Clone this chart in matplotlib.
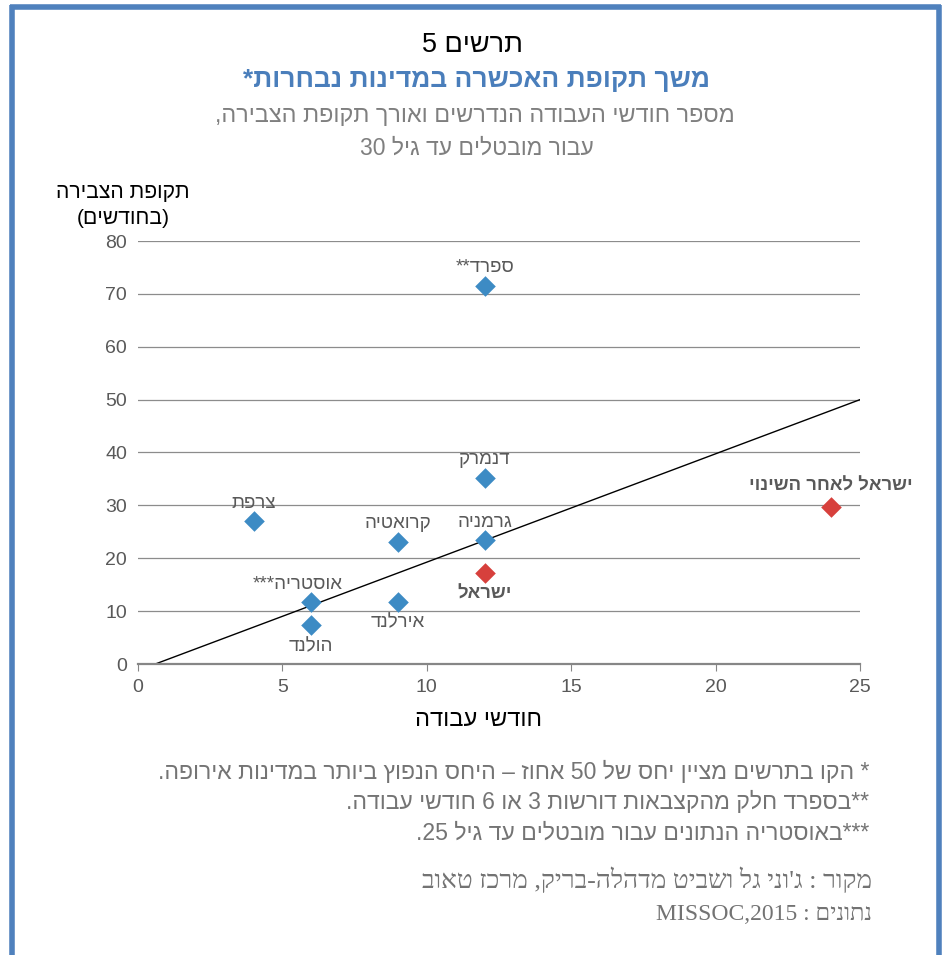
import re
import matplotlib
matplotlib.use("Agg")
import matplotlib.pyplot as plt
from matplotlib.lines import Line2D

# data
countries = ["צרפת", "ספרד**", "דנמרק", "גרמניה", "קרואטיה", "אוסטריה***", "הולנד", "אירלנד"]
work_months = [4, 12, 12, 12, 9, 6, 6, 9]
accrual_months = [27.0, 71.5, 35.2, 23.4, 23.1, 11.7, 7.3, 11.7]
label_side = ["above", "above", "above", "above", "above", "above", "below", "below"]

israel_labels = ["ישראל", "ישראל לאחר השינוי"]
israel_work = [12, 24]
israel_accrual = [17.3, 29.6]
israel_side = ["below", "above"]

# 50% ratio line, endpoints
ratio_x = [0.6, 25]
ratio_y = [0, 50]

x_ticks = [0, 5, 10, 15, 20, 25]
y_ticks = [0, 10, 20, 30, 40, 50, 60, 70, 80]

title_num = "תרשים 5"
title_main = "משך תקופת האכשרה במדינות נבחרות*"
subtitle = ["מספר חודשי העבודה הנדרשים ואורך תקופת הצבירה,", "עבור מובטלים עד גיל 30"]
y_label = ["תקופת הצבירה", "(בחודשים)"]
x_label = "חודשי עבודה"
notes = [
    "* הקו בתרשים מציין יחס של 50 אחוז – היחס הנפוץ ביותר במדינות אירופה.",
    "**בספרד חלק מהקצבאות דורשות 3 או 6 חודשי עבודה.",
    "***באוסטריה הנתונים עבור מובטלים עד גיל 25.",
]
source = ["מקור : ג'וני גל ושביט מדהלה-בריק, מרכז טאוב", "נתונים : MISSOC,2015"]

# matplotlib has no bidi support, so put the Hebrew into visual order
LTR_RUN = re.compile(r"[A-Za-z0-9]+(?:[.,:][A-Za-z0-9]+)*")
MIRROR = str.maketrans("()", ")(")


def rtl(s):
    r = s[::-1].translate(MIRROR)
    return LTR_RUN.sub(lambda m: m.group(0)[::-1], r)


SANS = ["Liberation Sans", "DejaVu Sans"]
SERIF = ["Liberation Serif", "DejaVu Serif"]
BLUE = "#3d8bc4"
RED = "#d7403c"
FRAME = "#4f81bd"
TICK_GRAY = "#595959"

plt.rcParams["font.family"] = SANS

W, H = 943, 955
fig = plt.figure(figsize=(W / 100, H / 100), dpi=100)


def fx(px):
    return px / W


def fy(py):
    return 1 - py / H


ax = fig.add_axes([fx(138), fy(664), fx(860) - fx(138), fy(241) - fy(664)])

ax.scatter(work_months, accrual_months, marker="D", s=110, color=BLUE, zorder=3, linewidths=0)
ax.scatter(israel_work, israel_accrual, marker="D", s=110, color=RED, zorder=3, linewidths=0)
ax.plot(ratio_x, ratio_y, color="black", lw=1.0, zorder=2)

for name, x, y, side in zip(countries, work_months, accrual_months, label_side):
    dy = 18 if side == "above" else -21
    dx = -14 if name.startswith("אוסטריה") else 0
    ax.annotate(rtl(name), (x, y), xytext=(dx, dy), textcoords="offset pixels",
                ha="center", va="center", fontsize=13.5, color=TICK_GRAY)

for name, x, y, side in zip(israel_labels, israel_work, israel_accrual, israel_side):
    dy = 21 if side == "above" else -22
    ax.annotate(rtl(name), (x, y), xytext=(0, dy), textcoords="offset pixels",
                ha="center", va="center", fontsize=13.3, color=TICK_GRAY, fontweight="bold")

ax.set_xlim(0, 25)
ax.set_ylim(0, 80)
ax.set_xticks(x_ticks)
ax.set_yticks(y_ticks)
ax.yaxis.grid(True, color="#8c8c8c", lw=0.9)
ax.set_axisbelow(True)
for side in ["left", "right", "top"]:
    ax.spines[side].set_visible(False)
ax.spines["bottom"].set_color("#868686")
ax.spines["bottom"].set_linewidth(1.6)
ax.tick_params(axis="x", length=5, color="#868686", labelsize=14, labelcolor=TICK_GRAY, pad=6)
ax.tick_params(axis="y", length=0, labelsize=14, labelcolor=TICK_GRAY, pad=8)

# titles
fig.text(fx(472), fy(45), rtl(title_num), ha="center", va="center", fontsize=19.5, color="black")
fig.text(fx(476), fy(80), rtl(title_main), ha="center", va="center", fontsize=19,
         fontweight="bold", color="#4a7ebb")
fig.text(fx(475), fy(115), rtl(subtitle[0]), ha="center", va="center", fontsize=16.8, color="#7f7f7f")
fig.text(fx(477), fy(148), rtl(subtitle[1]), ha="center", va="center", fontsize=16.5, color="#7f7f7f")

# axis titles
fig.text(fx(123), fy(192), rtl(y_label[0]), ha="center", va="center", fontsize=15.2, color="black")
fig.text(fx(123), fy(218), rtl(y_label[1]), ha="center", va="center", fontsize=15.2, color="black")
fig.text(fx(478), fy(720), rtl(x_label), ha="center", va="center", fontsize=17, color="black")

# footnotes
for i, line in enumerate(notes):
    fig.text(fx(869), fy(772 + 30.5 * i), rtl(line), ha="right", va="center",
             fontsize=16.6, color="#747474")
fig.text(fx(872), fy(880), rtl(source[0]), ha="right", va="center",
         fontsize=18.8, color="#737373", family=SERIF)
fig.text(fx(872), fy(914), rtl(source[1]), ha="right", va="center",
         fontsize=17, color="#737373", family=SERIF)

# blue frame around the figure
frame_kw = dict(color=FRAME, lw=4, transform=fig.transFigure, solid_capstyle="butt")
fig.add_artist(Line2D([fx(12), fx(12)], [fy(5), 0], **frame_kw))
fig.add_artist(Line2D([fx(10), fx(941)], [fy(7), fy(7)], **frame_kw))
fig.add_artist(Line2D([fx(939), fx(939)], [fy(5), 0], **frame_kw))

fig.savefig("out.png", dpi=100)
